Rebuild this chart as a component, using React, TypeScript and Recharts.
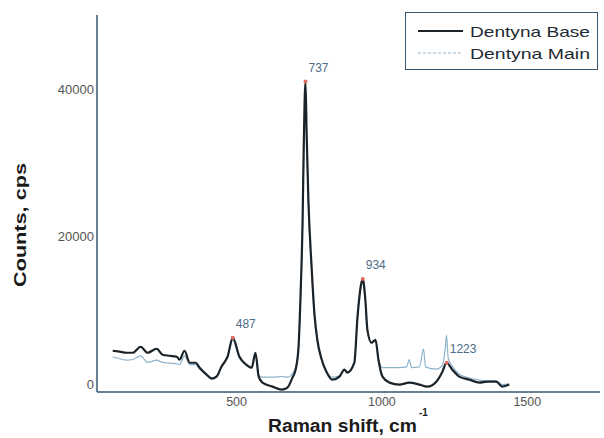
import React from "react";
import {
  ComposedChart,
  Line,
  XAxis,
  YAxis,
  Legend,
  ReferenceDot,
} from "recharts";

// Dentyna Base (black) — Raman shift / counts
const baseShift = [
  74, 98, 122, 143, 170, 194, 225, 246, 270, 294, 304, 321, 339, 359, 373, 397, 414, 431, 448, 469,
  487, 510, 534, 552, 565, 576, 589, 624, 655, 675, 692, 703, 713, 720, 727, 731, 737, 741, 747, 758,
  768, 778, 792, 809, 830, 854, 871, 881, 905, 916, 929, 934, 943, 950, 964, 978, 988, 1002, 1026,
  1060, 1094, 1129, 1156, 1187, 1208, 1222, 1242, 1266, 1301, 1335, 1362, 1393, 1414, 1438,
];
const baseCounts = [
  4580, 4450, 4310, 4310, 5120, 4310, 4850, 4040, 3900, 3770, 3370, 4580, 2960, 2960, 2290, 1350,
  810, 1080, 2420, 3770, 6330, 3770, 2690, 2290, 4310, 1080, 270, -270, -670, -400, 940, 2000, 5000,
  12000, 22000, 32000, 41000, 34000, 25000, 16000, 9500, 6000, 3500, 1750, 670, 1080, 2020, 1620,
  2960, 9160, 13700, 14300, 11450, 7400, 5660, 6060, 3370, 1080, 270, 0, 270, 0, -270, 400, 1750,
  2960, 2020, 1080, 670, 270, 400, 400, -270, 0,
];

// Dentyna Main (light blue)
const mainShift = [
  74, 98, 122, 143, 170, 194, 225, 246, 270, 294, 304, 321, 339, 359, 373, 397, 414, 431, 448, 469,
  487, 510, 534, 552, 565, 576, 589, 624, 655, 675, 692, 703, 713, 720, 727, 731, 737, 741, 747, 758,
  768, 778, 792, 809, 830, 854, 871, 881, 905, 916, 929, 934, 943, 950, 964, 978, 988, 1002, 1026,
  1060, 1085, 1094, 1102, 1129, 1143, 1150, 1187, 1208, 1218, 1222, 1228, 1242, 1266, 1301, 1335,
  1362, 1393, 1414, 1438,
];
const mainCounts = [
  3770, 3500, 3300, 3400, 3900, 3000, 3300, 3000, 2900, 2800, 2700, 3900, 2700, 2700, 2100, 1300,
  900, 1100, 2400, 3700, 6000, 3600, 2600, 2200, 4100, 1300, 1000, 1000, 1100, 1000, 1500, 2300,
  5000, 11500, 21500, 31000, 40000, 33000, 24500, 15500, 9200, 5800, 3400, 1800, 1000, 1200, 2000,
  1700, 3000, 9000, 13400, 14000, 11200, 7300, 5600, 5900, 3500, 2300, 2300, 2300, 2400, 3400, 2300,
  2400, 4800, 2400, 2100, 2600, 5000, 6700, 3600, 2500, 1400, 900, 600, 500, 500, 0, 100,
];

const peakShift = [487, 737, 934, 1223];
const peakCounts = [6330, 41000, 14300, 2960];

const xTicks = [500, 1000, 1500];
const yTicks = [0, 20000, 40000];

const baseData = baseShift.map((x, i) => ({ x, y: baseCounts[i] }));
const mainData = mainShift.map((x, i) => ({ x, y: mainCounts[i] }));

const FONT = "'Liberation Sans', Arial, sans-serif";
const AXIS = "#35566e";

function PeakLabel(props: any) {
  const { viewBox, value } = props;
  const cx = viewBox.x + viewBox.width / 2;
  const cy = viewBox.y + viewBox.height / 2;
  return (
    <text x={cx + 3} y={cy - 10} fontSize={12} fill="#4c6c86" fontFamily={FONT}>
      {value}
    </text>
  );
}

function LegendBox() {
  return (
    <div style={{ width: 193, height: 58, border: `1px solid ${AXIS}`, boxSizing: "border-box", background: "#fff" }}>
      <svg width={191} height={56}>
        <line x1={12} x2={57} y1={18} y2={18} stroke="#1b2329" strokeWidth={2} />
        <text x={64} y={23.5} fontSize={15} fill="#1e2a33" fontFamily={FONT} textLength={120} lengthAdjust="spacingAndGlyphs">
          Dentyna Base
        </text>
        <line x1={12} x2={57} y1={40} y2={40} stroke="#8fb3cc" strokeWidth={1} strokeDasharray="3 2" />
        <text x={64} y={45.5} fontSize={15} fill="#1e2a33" fontFamily={FONT} textLength={120} lengthAdjust="spacingAndGlyphs">
          Dentyna Main
        </text>
      </svg>
    </div>
  );
}

function YLabel() {
  return (
    <text
      x={26}
      y={225}
      transform="rotate(-90, 26, 225)"
      textAnchor="middle"
      fontSize={17}
      fontWeight="bold"
      fill="#1b1b1b"
      fontFamily={FONT}
      textLength={124}
      lengthAdjust="spacingAndGlyphs"
    >
      Counts, cps
    </text>
  );
}

function XLabel() {
  return (
    <text x={268} y={432} fontSize={18} fontWeight="bold" fill="#1b1b1b" fontFamily={FONT}>
      <tspan textLength={149} lengthAdjust="spacingAndGlyphs">Raman shift, cm</tspan>
      <tspan x={419} y={416} fontSize={10}>-1</tspan>
    </text>
  );
}

export default function App() {
  return (
    <div style={{ position: "absolute", left: 0, top: 0, width: 604, height: 438, background: "#fff" }}>
      <ComposedChart width={604} height={438} margin={{ top: 15, right: 4, left: 0, bottom: 0 }}>
        <XAxis
          type="number"
          dataKey="x"
          domain={[20, 1750]}
          ticks={xTicks}
          allowDataOverflow
          height={46}
          stroke={AXIS}
          strokeWidth={1.5}
          tickLine={false}
          tickSize={3}
          tick={{ fontSize: 12.5, fill: "#555", fontFamily: FONT }}
          label={<XLabel />}
        />
        <YAxis
          type="number"
          domain={[-1000, 50000]}
          ticks={yTicks}
          allowDataOverflow
          width={97}
          stroke={AXIS}
          strokeWidth={1.5}
          tickLine={false}
          tickSize={1}
          tick={{ fontSize: 13, fill: "#555", fontFamily: FONT }}
          label={<YLabel />}
        />
        <Legend
          layout="vertical"
          align="center"
          verticalAlign="middle"
          wrapperStyle={{ position: "absolute", top: 12, left: 405, width: 193, height: 58 }}
          content={() => <LegendBox />}
        />
        <Line
          data={mainData}
          dataKey="y"
          name="Dentyna Main"
          type="monotone"
          stroke="#8fb3cc"
          strokeWidth={1.2}
          dot={false}
          isAnimationActive={false}
        />
        <Line
          data={baseData}
          dataKey="y"
          name="Dentyna Base"
          type="monotone"
          stroke="#1b2329"
          strokeWidth={2.2}
          dot={false}
          isAnimationActive={false}
        />
        {peakShift.map((p, i) => (
          <ReferenceDot
            key={p}
            x={p}
            y={peakCounts[i]}
            r={2}
            fill="#e06a5e"
            stroke="none"
            label={<PeakLabel value={p} />}
          />
        ))}
      </ComposedChart>
    </div>
  );
}
